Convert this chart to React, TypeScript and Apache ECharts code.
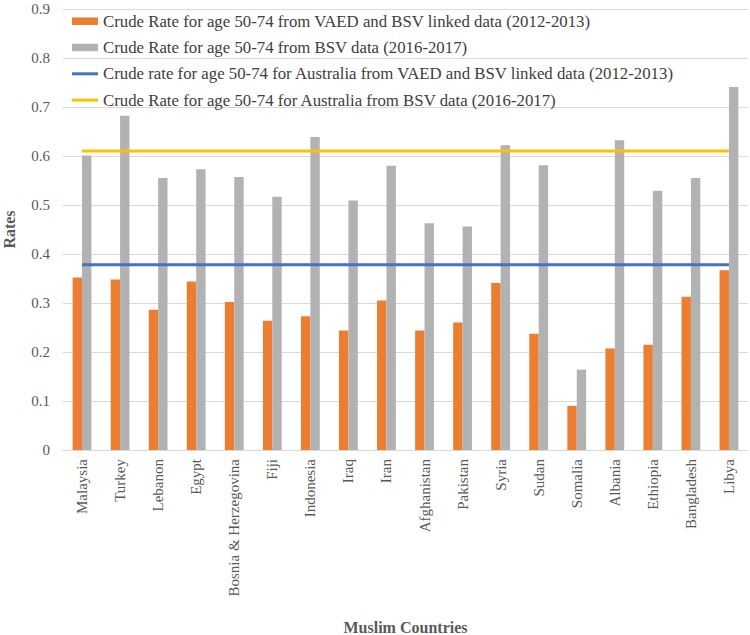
import React, { useEffect, useRef } from "react";
import * as echarts from "echarts";

const categories = [
  "Malaysia", "Turkey", "Lebanon", "Egypt", "Bosnia & Herzegovina", "Fiji",
  "Indonesia", "Iraq", "Iran", "Afghanistan", "Pakistan", "Syria", "Sudan",
  "Somalia", "Albania", "Ethiopia", "Bangladesh", "Libya",
];
const vaedRates = [
  0.352, 0.348, 0.286, 0.344, 0.302, 0.264, 0.273, 0.244, 0.305, 0.244,
  0.26, 0.341, 0.237, 0.09, 0.207, 0.215, 0.313, 0.367,
];
const bsvRates = [
  0.601, 0.682, 0.555, 0.573, 0.557, 0.517, 0.639, 0.509, 0.58, 0.463,
  0.456, 0.622, 0.581, 0.164, 0.632, 0.529, 0.555, 0.741,
];
const australiaVaed = 0.378;
const australiaBsv = 0.61;

const seriesNames = [
  "Crude Rate for age 50-74 from VAED and BSV linked data (2012-2013)",
  "Crude Rate for age 50-74 from BSV data (2016-2017)",
  "Crude rate for age 50-74 for Australia from VAED and BSV linked data (2012-2013)",
  "Crude Rate for age 50-74 for Australia from BSV data (2016-2017)",
];

const FONT = "'Liberation Serif', 'Times New Roman', serif";
const LINE_ICON = "path://M0,0 L26,0 L26,3 L0,3 Z";

export default function App() {
  const ref = useRef<HTMLDivElement>(null);
  useEffect(() => {
    if (!ref.current) return;
    const chart = echarts.init(ref.current, null, { renderer: "svg" });
    chart.setOption({
      animation: false,
      backgroundColor: "#ffffff",
      textStyle: { fontFamily: FONT },
      grid: {
        left: 63,
        right: 2,
        top: 9,
        bottom: 185,
        containLabel: false,
        outerBoundsMode: "none",
      },
      legend: {
        orient: "vertical",
        left: 67,
        top: 7.7,
        itemWidth: 26,
        itemHeight: 7.5,
        itemGap: 9.3,
        textStyle: { fontFamily: FONT, fontSize: 16.8, color: "#404040", lineHeight: 17 },
        data: [
          { name: seriesNames[0], icon: "rect" },
          { name: seriesNames[1], icon: "rect" },
          { name: seriesNames[2], icon: LINE_ICON },
          { name: seriesNames[3], icon: LINE_ICON },
        ],
      },
      xAxis: {
        type: "category",
        data: categories,
        name: "Muslim Countries",
        nameLocation: "middle",
        nameGap: 169,
        nameTextStyle: { fontFamily: FONT, fontSize: 16, fontWeight: "bold", color: "#595959" },
        axisLine: { lineStyle: { color: "#d9d9d9", width: 1 } },
        axisTick: { show: false },
        axisLabel: {
          rotate: 90,
          interval: 0,
          margin: 9,
          fontFamily: FONT,
          fontSize: 15,
          color: "#595959",
        },
      },
      yAxis: {
        type: "value",
        min: 0,
        max: 0.9,
        interval: 0.1,
        name: "Rates",
        nameLocation: "middle",
        nameGap: 46,
        nameTextStyle: { fontFamily: FONT, fontSize: 16, fontWeight: "bold", color: "#595959" },
        axisLine: { show: false },
        axisTick: { show: false },
        axisLabel: {
          margin: 13,
          fontFamily: FONT,
          fontSize: 15,
          color: "#595959",
          formatter: (v: number) => String(Math.round(v * 10) / 10),
        },
        splitLine: { lineStyle: { color: "#d9d9d9", width: 1 } },
      },
      series: [
        {
          name: seriesNames[0],
          type: "bar",
          data: vaedRates,
          barWidth: 9.4,
          barGap: "0%",
          itemStyle: { color: "#ED7D31" },
        },
        {
          name: seriesNames[1],
          type: "bar",
          data: bsvRates,
          barWidth: 9.4,
          barGap: "0%",
          itemStyle: { color: "#B2B2B2" },
        },
        {
          name: seriesNames[2],
          type: "line",
          data: categories.map(() => australiaVaed),
          symbol: "none",
          lineStyle: { color: "#4472C4", width: 3 },
          itemStyle: { color: "#4472C4" },
          z: 3,
        },
        {
          name: seriesNames[3],
          type: "line",
          data: categories.map(() => australiaBsv),
          symbol: "none",
          lineStyle: { color: "#FFC000", width: 3 },
          itemStyle: { color: "#FFC000" },
          z: 3,
        },
      ],
    });
    return () => chart.dispose();
  }, []);
  return (
    <div
      ref={ref}
      style={{ position: "fixed", left: 0, top: 0, width: 750, height: 635 }}
    />
  );
}
